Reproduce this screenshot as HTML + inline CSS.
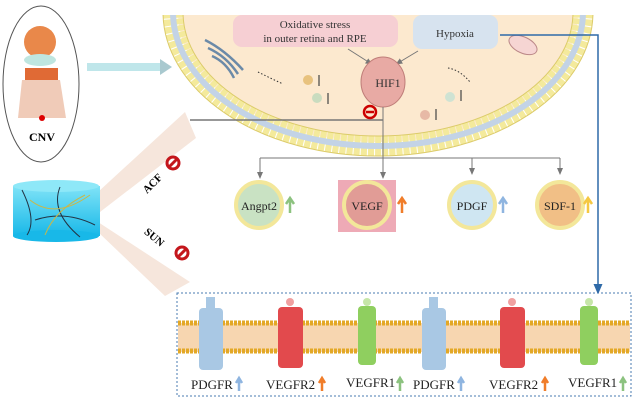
<!DOCTYPE html>
<html><head><meta charset="utf-8"><style>
body{margin:0;background:#fff}
svg{display:block;font-family:"Liberation Serif",serif}
</style></head><body>
<svg width="633" height="401" viewBox="0 0 633 401" xmlns="http://www.w3.org/2000/svg">
<defs>
<marker id="ag" markerWidth="8" markerHeight="8" refX="4" refY="4" orient="auto"><path d="M0,1 L7,4 L0,7 z" fill="#777"/></marker>
<marker id="ab" markerWidth="8" markerHeight="8" refX="4" refY="4" orient="auto"><path d="M0,1 L7,4 L0,7 z" fill="#2f6aa8"/></marker>
<linearGradient id="cyl" x1="0" y1="0" x2="0" y2="1"><stop offset="0" stop-color="#7fe3f7"/><stop offset="1" stop-color="#18b8e8"/></linearGradient>
<clipPath id="cc"><rect x="0" y="15" width="633" height="200"/></clipPath>
</defs>
<!-- beams -->
<polygon points="98,192 185,112 196,138 100,212" fill="#f6e6dc"/>
<polygon points="98,222 190,282 165,296 98,232" fill="#f6e6dc"/>
<!-- cell -->
<g clip-path="url(#cc)">
<ellipse cx="378" cy="12" rx="200" ry="130" fill="#fce9cf"/>
<ellipse cx="378" cy="12" rx="205" ry="134" fill="none" stroke="#f4ea9c" stroke-width="20" stroke-dasharray="6 1"/>
<ellipse cx="378" cy="12" rx="205" ry="134" fill="none" stroke="#c3d3e6" stroke-width="6"/>
<ellipse cx="378" cy="12" rx="215" ry="144" fill="none" stroke="#dccb6a" stroke-width="1"/>
<ellipse cx="378" cy="12" rx="195" ry="124" fill="none" stroke="#dccb6a" stroke-width="1"/>
</g>
<!-- organelles -->
<g stroke="#6b8aa8" stroke-width="2.5" fill="none"><path d="M205,40 q20,10 38,30"/><path d="M208,48 q18,8 30,26"/><path d="M212,56 q14,6 22,22"/></g>
<path d="M258,72 q10,5 25,12" stroke="#333" stroke-dasharray="1.5 2" fill="none"/>
<path d="M448,68 q12,2 22,14" stroke="#333" stroke-dasharray="1.5 2" fill="none"/>
<ellipse cx="523" cy="45" rx="15" ry="8" transform="rotate(25 523 45)" fill="#f6d5d3" stroke="#b88"/>
<circle cx="308" cy="80" r="5" fill="#e8c27e"/><circle cx="317" cy="98" r="5" fill="#c9dcbf"/>
<circle cx="450" cy="97" r="5" fill="#cfe3d3"/><circle cx="425" cy="115" r="5" fill="#e7b9a6"/>
<g stroke="#444" stroke-width="1.2"><line x1="319" y1="86" x2="319" y2="75"/><line x1="328" y1="104" x2="328" y2="93"/><line x1="461" y1="101" x2="461" y2="90"/><line x1="436" y1="120" x2="436" y2="109"/></g>
<!-- boxes -->
<rect x="233" y="15" width="165" height="32" rx="9" fill="#f6cfd3"/>
<text x="315" y="28" font-size="11" text-anchor="middle" fill="#333">Oxidative stress</text>
<text x="315" y="42" font-size="11" text-anchor="middle" fill="#333">in outer retina and RPE</text>
<rect x="413" y="15" width="85" height="34" rx="9" fill="#d7e3ef"/>
<text x="455" y="37" font-size="11" text-anchor="middle" fill="#333">Hypoxia</text>
<line x1="348" y1="49" x2="370" y2="63" stroke="#777" marker-end="url(#ag)"/>
<line x1="418" y1="51" x2="398" y2="63" stroke="#777" marker-end="url(#ag)"/>
<ellipse cx="383" cy="82" rx="22" ry="25" fill="#e8aaa4" stroke="#c07f7a"/>
<text x="388" y="87" font-size="12" text-anchor="middle" fill="#333">HIF1</text>
<!-- inhibit line -->
<line x1="190" y1="120" x2="383" y2="120" stroke="#777" stroke-width="1.5"/>
<circle cx="370" cy="112" r="6" fill="none" stroke="#c00" stroke-width="2.5"/><line x1="366" y1="112" x2="374" y2="112" stroke="#c00" stroke-width="2.5"/>
<!-- branches -->
<line x1="383" y1="107" x2="383" y2="176" stroke="#777" marker-end="url(#ag)"/>
<polyline points="260,158 560,158" fill="none" stroke="#777"/>
<line x1="260" y1="158" x2="260" y2="176" stroke="#777" marker-end="url(#ag)"/>
<line x1="472" y1="158" x2="472" y2="172" stroke="#777" marker-end="url(#ag)"/>
<line x1="560" y1="158" x2="560" y2="172" stroke="#777" marker-end="url(#ag)"/>
<!-- factors -->
<rect x="338" y="180" width="58" height="52" fill="#eeaab6"/>
<g font-size="12" text-anchor="middle" fill="#222">
<circle cx="259" cy="205" r="23" fill="#c9e2c3" stroke="#f3e79a" stroke-width="4"/><text x="259" y="210">Angpt2</text>
<circle cx="367" cy="205" r="23" fill="#e19c96" stroke="#f3e79a" stroke-width="4"/><text x="367" y="210">VEGF</text>
<circle cx="472" cy="205" r="23" fill="#cfe6f2" stroke="#f3e79a" stroke-width="4"/><text x="472" y="210">PDGF</text>
<circle cx="560" cy="205" r="23" fill="#f1bf86" stroke="#f3e79a" stroke-width="4"/><text x="560" y="210">SDF-1</text>
</g>
<g stroke-width="2.5" fill="none">
<path d="M290,213 v-14 m-4,5 l4,-6 l4,6" stroke="#8cc27f"/>
<path d="M402,213 v-14 m-4,5 l4,-6 l4,6" stroke="#f07d2a"/>
<path d="M503,213 v-14 m-4,5 l4,-6 l4,6" stroke="#8fb5e0"/>
<path d="M588,213 v-14 m-4,5 l4,-6 l4,6" stroke="#f5c842"/>
</g>
<!-- blue connector -->
<polyline points="500,35 598,35 598,290" fill="none" stroke="#2f6aa8" stroke-width="1.5" marker-end="url(#ab)"/>
<!-- CNV -->
<ellipse cx="41" cy="84" rx="38" ry="78" fill="#fff" stroke="#555"/>
<circle cx="40" cy="42" r="16" fill="#e9884a"/>
<ellipse cx="40" cy="60" rx="16" ry="6" fill="#bfe6e0"/>
<polygon points="25,68 58,68 58,80 25,80" fill="#e06a35"/>
<polygon points="22,80 60,80 66,118 18,118" fill="#f0cbb8"/>
<circle cx="42" cy="118" r="3" fill="#d00"/>
<text x="42" y="141" font-size="12" font-weight="bold" text-anchor="middle">CNV</text>
<rect x="87" y="63" width="75" height="8" fill="#bfe6ea"/><polygon points="160,59 172,67 160,75" fill="#a9c9cf"/>
<!-- cylinder -->
<rect x="13" y="186" width="87" height="50" fill="url(#cyl)"/>
<ellipse cx="56" cy="186" rx="43" ry="6" fill="#8ee8f8"/>
<ellipse cx="56" cy="236" rx="43" ry="6" fill="#18b8e8"/>
<g stroke="#234" fill="none" stroke-width="1"><path d="M22,190 q15,30 5,45"/><path d="M60,187 q-10,25 20,50"/><path d="M35,220 q30,-10 60,5"/></g>
<g stroke="#c9b84a" fill="none" stroke-width="1"><path d="M30,200 q25,20 60,-5"/><path d="M45,235 q10,-25 40,-40"/></g>
<!-- ACF/SUN -->
<text x="155" y="186" font-size="11" font-weight="bold" transform="rotate(-45 155 186)" text-anchor="middle">ACF</text>
<text x="152" y="240" font-size="11" font-weight="bold" transform="rotate(40 152 240)" text-anchor="middle">SUN</text>
<g stroke="#c4161c" stroke-width="3" fill="none"><circle cx="173" cy="163" r="6"/><line x1="169" y1="167" x2="177" y2="159"/>
<circle cx="182" cy="253" r="6"/><line x1="178" y1="257" x2="186" y2="249"/></g>
<!-- bottom box -->
<rect x="177" y="293" width="454" height="103" fill="#fff" stroke="#4a7bb0" stroke-dasharray="2 2"/>
<rect x="178" y="323" width="452" height="29" fill="#f7d6b0"/>
<line x1="178" y1="323" x2="630" y2="323" stroke="#e3a826" stroke-width="5" stroke-dasharray="3 1"/>
<line x1="178" y1="351" x2="630" y2="351" stroke="#e3a826" stroke-width="5" stroke-dasharray="3 1"/>
<g>
<rect x="199" y="308" width="24" height="62" rx="4" fill="#a9c8e4"/><rect x="206" y="297" width="9" height="11" fill="#a9c8e4"/>
<rect x="278" y="307" width="25" height="61" rx="4" fill="#e24a4d"/><circle cx="290" cy="302" r="4" fill="#f0a0a0"/>
<rect x="358" y="306" width="18" height="59" rx="4" fill="#8fcf5f"/><circle cx="367" cy="302" r="4" fill="#c6e6a8"/>
<rect x="422" y="308" width="24" height="62" rx="4" fill="#a9c8e4"/><rect x="429" y="297" width="9" height="11" fill="#a9c8e4"/>
<rect x="500" y="307" width="25" height="61" rx="4" fill="#e24a4d"/><circle cx="512" cy="302" r="4" fill="#f0a0a0"/>
<rect x="580" y="306" width="18" height="59" rx="4" fill="#8fcf5f"/><circle cx="589" cy="302" r="4" fill="#c6e6a8"/>
</g>
<g font-size="13" fill="#222">
<text x="191" y="389">PDGFR</text><text x="266" y="389">VEGFR2</text><text x="346" y="387">VEGFR1</text>
<text x="413" y="389">PDGFR</text><text x="489" y="389">VEGFR2</text><text x="568" y="387">VEGFR1</text>
</g>
<g stroke-width="2.5" fill="none">
<path d="M239,391 v-12 m-3,4 l3,-5 l3,5" stroke="#8fb5e0"/>
<path d="M322,391 v-12 m-3,4 l3,-5 l3,5" stroke="#f07d2a"/>
<path d="M400,391 v-12 m-3,4 l3,-5 l3,5" stroke="#8cc27f"/>
<path d="M461,391 v-12 m-3,4 l3,-5 l3,5" stroke="#8fb5e0"/>
<path d="M545,391 v-12 m-3,4 l3,-5 l3,5" stroke="#f07d2a"/>
<path d="M623,391 v-12 m-3,4 l3,-5 l3,5" stroke="#8cc27f"/>
</g>
</svg>
</body></html>
